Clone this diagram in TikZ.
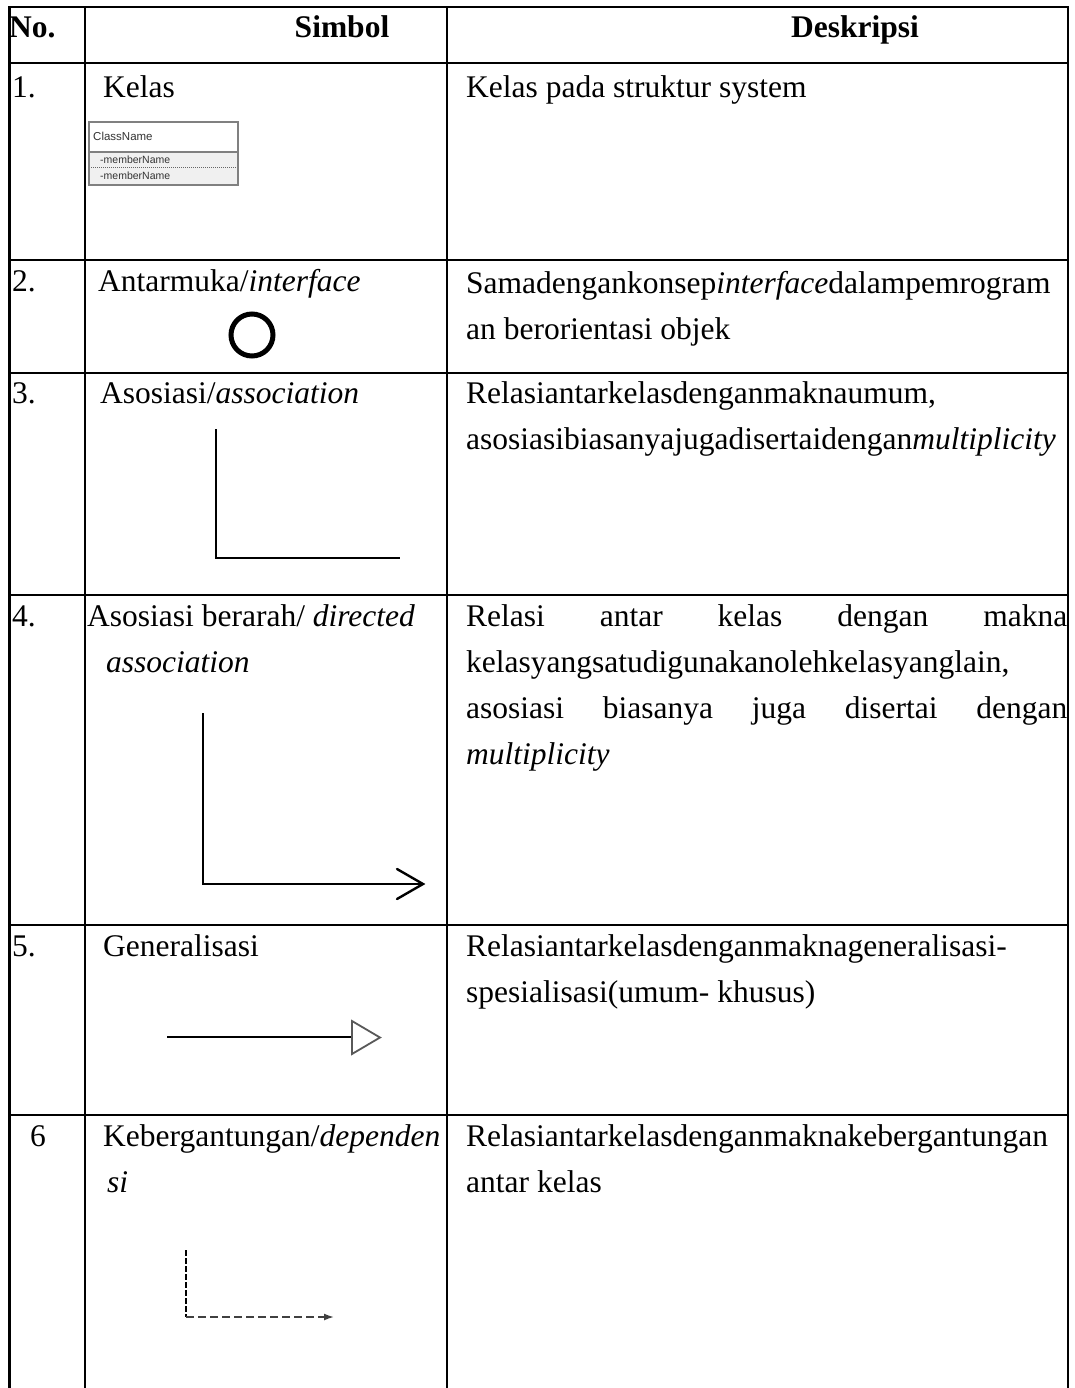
\documentclass[tikz,border=0pt]{standalone}
\usepackage{fontspec}
\setmainfont{Liberation Serif}
\newfontfamily\uisans{Liberation Sans}
\usetikzlibrary{arrows.meta}
\begin{document}
\begin{tikzpicture}[x=1pt,y=-1pt,
  gridline/.style={line width=2.6pt, line cap=rect},
  txt/.style={anchor=base west, inner sep=0pt, font=\fontsize{31.5}{38}\selectfont},
  hdr/.style={anchor=base, inner sep=0pt, font=\fontsize{31.5}{38}\selectfont\bfseries},
  clsline/.style={draw=black!50, line width=1.3pt},
  clstxt/.style={anchor=base west, inner sep=0pt, text=black!80},
  symline/.style={line width=2pt, line cap=butt, line join=miter}
]
\useasboundingbox (0,0) rectangle (1075,1388);
\fill[white] (0,0) rectangle (1075,1388);

% ---- table rules ----
\foreach \yy in {7,63,260,373,595,925,1115}
  \draw[gridline] (9.5,\yy) -- (1068,\yy);
\foreach \xx in {9.5,85,447,1068}
  \draw[gridline] (\xx,7) -- (\xx,1388);

% ---- header ----
\node[anchor=base west, inner sep=0pt, font=\fontsize{31.5}{38}\selectfont\bfseries] (hno) at (9,38) {No.};
\node[hdr] (hsim) at (342,38) {Simbol};
\node[hdr] (hdes) at (855,38) {Deskripsi};

% ---- numbers ----
\node[txt] (n1) at (12,98) {1.};
\node[txt] (n2) at (12,291) {2.};
\node[txt] (n3) at (12,403) {3.};
\node[txt] (n4) at (12,626) {4.};
\node[txt] (n5) at (12,956) {5.};
\node[txt] (n6) at (30,1146) {6};

% ---- symbol column labels ----
\node[txt] (s1) at (103,98) {Kelas};
\node[txt] (s2) at (98,291) {Antarmuka/\textit{interface}};
\node[txt] (s3) at (100,403) {Asosiasi/\textit{association}};
\node[txt] (s4a) at (87,626) {Asosiasi berarah/ \textit{directed}};
\node[txt] (s4b) at (106,672) {\textit{association}};
\node[txt] (s5) at (103,956) {Generalisasi};
\node[txt] (s6a) at (103,1146) {Kebergantungan/\textit{dependen}};
\node[txt] (s6b) at (107,1192) {\textit{si}};

% ---- descriptions ----
\node[txt] (d1) at (466,98) {Kelas pada struktur system};
\node[txt] (d2a) at (466,293) {Samadengankonsep\textit{interface}dalampemrogram};
\node[txt] (d2b) at (466,339) {an berorientasi objek};
\node[txt] (d3a) at (466,403) {Relasiantarkelasdenganmaknaumum,};
\node[txt] (d3b) at (466,449) {asosiasibiasanyajugadisertaidengan\textit{multiplicity}};
\node[txt] (d4a) at (466,626) {\makebox[601pt][s]{Relasi antar kelas dengan makna}};
\node[txt] (d4b) at (466,672) {kelasyangsatudigunakanolehkelasyanglain,};
\node[txt] (d4c) at (466,718) {\makebox[601pt][s]{asosiasi biasanya juga disertai dengan}};
\node[txt] (d4d) at (466,764) {\textit{multiplicity}};
\node[txt] (d5a) at (466,956) {Relasiantarkelasdenganmaknageneralisasi-};
\node[txt] (d5b) at (466,1002) {spesialisasi(umum- khusus)};
\node[txt] (d6a) at (466,1146) {Relasiantarkelasdenganmaknakebergantungan};
\node[txt] (d6b) at (466,1192) {antar kelas};

% ---- class symbol ----
\fill[black!6] (89,152) rectangle (238,185);
\draw[clsline] (89,122) rectangle (238,185);
\draw[clsline] (89,152) -- (238,152);
\draw[black!60, line width=0.8pt, dash pattern=on 1pt off 1pt] (91,167.5) -- (236,167.5);
\node[clstxt, font=\uisans\fontsize{11.5}{13}\selectfont] (cname) at (93,141) {ClassName};
\node[clstxt, font=\uisans\fontsize{10.5}{12}\selectfont] (cm1) at (100,164) {-memberName};
\node[clstxt, font=\uisans\fontsize{10.5}{12}\selectfont] (cm2) at (100,180) {-memberName};

% ---- interface symbol ----
\node[circle, draw, line width=5pt, minimum size=42pt, inner sep=0pt] (iface) at (252,335) {};

% ---- association ----
\coordinate (asA) at (216,429);
\coordinate (asB) at (216,558);
\coordinate (asC) at (400,558);
\draw[symline] (asA) -- (asB) -- (asC);

% ---- directed association ----
\coordinate (daA) at (203,713);
\coordinate (daB) at (203,884);
\coordinate (daC) at (423,884);
\coordinate (daU) at (397,869);
\coordinate (daL) at (397,899);
\draw[symline] (daA) -- (daB) -- (daC);
\draw[line width=2.4pt, line cap=round, line join=miter] (daU) -- (daC) -- (daL);

% ---- generalisation ----
\coordinate (gA) at (167,1037);
\coordinate (gB) at (352,1037);
\coordinate (gT1) at (352,1021);
\coordinate (gT2) at (380,1037.5);
\coordinate (gT3) at (352,1054);
\draw[line width=1.8pt] (gA) -- (gB);
\draw[black!65, line width=1.8pt, line join=miter] (gT1) -- (gT2) -- (gT3) -- cycle;

% ---- dependency ----
\coordinate (dpA) at (186,1250);
\coordinate (dpB) at (186,1317);
\coordinate (dpC) at (334,1317);
\draw[line width=1.8pt, dash pattern=on 6pt off 2pt] (dpA) -- (dpB);
\draw[black!75, line width=1.6pt, dash pattern=on 8pt off 4pt, -{Latex[length=10pt,width=7pt]}] (dpB) -- (dpC);
\end{tikzpicture}
\end{document}
